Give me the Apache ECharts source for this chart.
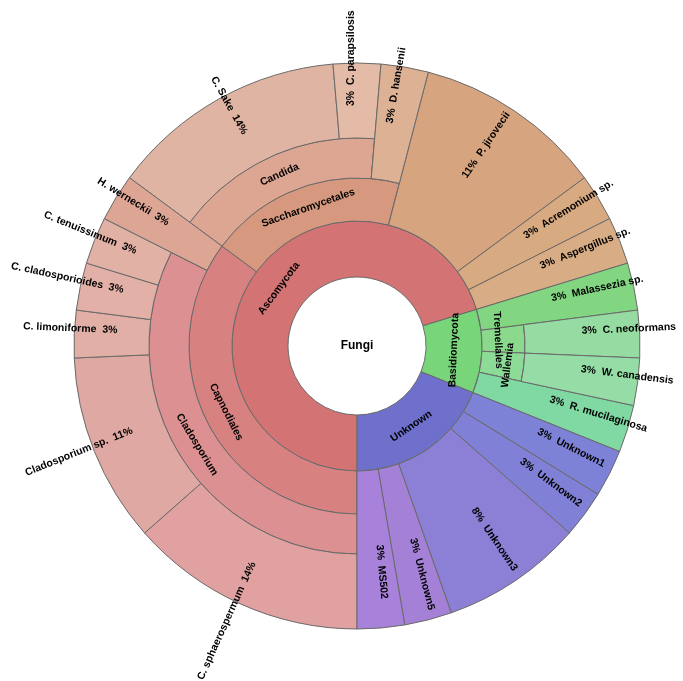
<!DOCTYPE html>
<html>
<head>
<meta charset="utf-8">
<script src="https://cdn.jsdelivr.net/npm/echarts@6/dist/echarts.min.js"></script>
<style>html,body{margin:0;padding:0;background:#fff}#c{width:683px;height:681px}</style>
</head>
<body>
<div id="c"></div>
<script>
// ---------------- data ----------------
const rootName = 'Fungi';
const leafNames = [
  'C. sphaerospermum', 'Cladosporium sp.', 'C. limoniforme', 'C. cladosporioides', 'C. tenuissimum',
  'H. werneckii',
  'C. Sake', 'C. parapsilosis',
  'D. hansenii',
  'P. jirovecii', 'Acremonium sp.', 'Aspergillus sp.',
  'Malassezia sp.', 'C. neoformans', 'W. canadensis', 'R. mucilaginosa',
  'Unknown1', 'Unknown2', 'Unknown3', 'Unknown5', 'MS502'
];
const leafCounts = [5, 4, 1, 1, 1, 1, 5, 1, 1, 4, 1, 1, 1, 1, 1, 1, 1, 1, 3, 1, 1];
const leafLineage = [
  ['Ascomycota', 'Capnodiales', 'Cladosporium'],
  ['Ascomycota', 'Capnodiales', 'Cladosporium'],
  ['Ascomycota', 'Capnodiales', 'Cladosporium'],
  ['Ascomycota', 'Capnodiales', 'Cladosporium'],
  ['Ascomycota', 'Capnodiales', 'Cladosporium'],
  ['Ascomycota', 'Capnodiales'],
  ['Ascomycota', 'Saccharomycetales', 'Candida'],
  ['Ascomycota', 'Saccharomycetales', 'Candida'],
  ['Ascomycota', 'Saccharomycetales'],
  ['Ascomycota'],
  ['Ascomycota'],
  ['Ascomycota'],
  ['Basidiomycota'],
  ['Basidiomycota', 'Tremellales'],
  ['Basidiomycota', 'Wallemia'],
  ['Basidiomycota'],
  ['Unknown'], ['Unknown'], ['Unknown'], ['Unknown'], ['Unknown']
];

// ---------------- styles ----------------
const colors = {
  'Fungi': '#ffffff',
  'Ascomycota': '#d37373', 'Capnodiales': '#d88181', 'Cladosporium': '#dd9091',
  'C. sphaerospermum': '#e1a1a1', 'Cladosporium sp.': '#e0a8a2', 'C. limoniforme': '#e1afa5',
  'C. cladosporioides': '#e2b0a6', 'C. tenuissimum': '#e2b1a6', 'H. werneckii': '#dda694',
  'Saccharomycetales': '#d6987e', 'Candida': '#dca692', 'C. Sake': '#e0b4a2', 'C. parapsilosis': '#e3bba6',
  'D. hansenii': '#ddb194', 'P. jirovecii': '#d6a47f', 'Acremonium sp.': '#d7aa82', 'Aspergillus sp.': '#d8ac84',
  'Basidiomycota': '#79d579', 'Malassezia sp.': '#82d682', 'Tremellales': '#8ad98c', 'Wallemia': '#8cdb96',
  'C. neoformans': '#96dca2', 'W. canadensis': '#96dca6', 'R. mucilaginosa': '#80d8a2',
  'Unknown': '#6e70cc', 'Unknown1': '#7d82d7', 'Unknown2': '#8080d7', 'Unknown3': '#8c80d6',
  'Unknown5': '#a580d7', 'MS502': '#a882da'
};
const BORDER = '#6a6a6a';
const CX = 357, CY = 346;
const R = [0, 69, 125, 168, 208, 283];
const LABEL_START = { 1: 200, 2: 225, 3: 240 };   // radius where leaf labels begin
const FONT = { fontFamily: 'Liberation Sans, Arial, sans-serif', fontSize: 10.5, fontWeight: 'bold', color: '#000' };

const total = leafCounts.reduce((a, b) => a + b, 0);

// label text (percent nearest the centre)
const leafLabel = {};
let cum = 0;
leafNames.forEach((n, i) => {
  const mid = (180 + 360 * (cum + leafCounts[i] / 2) / total) % 360;
  cum += leafCounts[i];
  const pct = Math.round(leafCounts[i] / total * 100) + '%';
  leafLabel[n] = mid >= 180 ? n + '  ' + pct : pct + '  ' + n;
});

// ---------------- tree ----------------
const root = { name: rootName, children: [] };
leafNames.forEach((name, i) => {
  let parent = root;
  leafLineage[i].forEach(g => {
    let n = parent.children.find(c => c.name === g);
    if (!n) { n = { name: g, children: [] }; parent.children.push(n); }
    parent = n;
  });
  parent.children.push({ name: name, value: leafCounts[i], _lin: leafLineage[i].length });
});

function decorate(node) {
  node.itemStyle = { color: colors[node.name], borderColor: BORDER, borderWidth: 1 };
  if (node.children && node.children.length) {
    node.children.forEach(decorate);
  } else if (node._lin < 3) {
    node.label = { show: false };
  }
  if (node.name === 'Tremellales' || node.name === 'Wallemia') {
    node.label = { verticalAlign: 'top' };
  }
  delete node._lin;
}
decorate(root);
root.itemStyle = { color: '#ffffff', borderWidth: 0 };

function overlayData(lin) {
  return leafNames.map((n, i) => leafLineage[i].length === lin
    ? { name: n, value: leafCounts[i], itemStyle: { color: colors[n], borderColor: BORDER, borderWidth: 1 } }
    : { name: '', value: leafCounts[i], itemStyle: { color: 'rgba(0,0,0,0)', borderWidth: 0 }, label: { show: false } });
}

const fmt = p => leafLabel[p.name] !== undefined ? leafLabel[p.name] : p.name;
const leafLabelOpt = r0 => Object.assign({
  formatter: fmt, rotate: 'radial', align: 'left', verticalAlign: 'bottom',
  distance: LABEL_START[r0 === R[2] ? 1 : r0 === R[3] ? 2 : 3] - r0
}, FONT);

const chart = echarts.init(document.getElementById('c'), null, { renderer: 'canvas' });
chart.setOption({
  animation: false,
  backgroundColor: '#ffffff',
  series: [
    {
      type: 'sunburst', center: [CX, CY], radius: [0, R[5]], sort: null,
      startAngle: -90, nodeClick: false, emphasis: { disabled: true },
      data: [root],
      label: Object.assign({ formatter: fmt, minAngle: 0 }, FONT),
      levels: [
        {},
        { radius: [R[0], R[1]], label: { rotate: 0, fontSize: 12, fontWeight: 'bold' } },
        { radius: [R[1], R[2]], label: { rotate: 'tangential' } },
        { radius: [R[2], R[3]], label: { rotate: 'tangential' } },
        { radius: [R[3], R[4]], label: { rotate: 'tangential' } },
        { radius: [R[4], R[5]], label: leafLabelOpt(R[4]) }
      ]
    },
    {
      type: 'sunburst', center: [CX, CY], radius: [R[2], R[5]], sort: null,
      startAngle: -90, nodeClick: false, emphasis: { disabled: true },
      data: overlayData(1),
      label: leafLabelOpt(R[2])
    },
    {
      type: 'sunburst', center: [CX, CY], radius: [R[3], R[5]], sort: null,
      startAngle: -90, nodeClick: false, emphasis: { disabled: true },
      data: overlayData(2),
      label: leafLabelOpt(R[3])
    }
  ]
});
</script>
</body>
</html>
